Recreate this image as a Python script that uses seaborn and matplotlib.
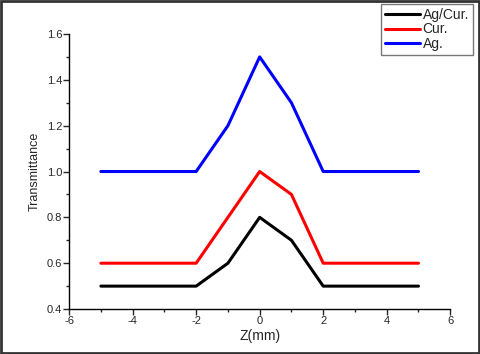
import matplotlib
matplotlib.use("Agg")
import matplotlib.pyplot as plt
import numpy as np
import pandas as pd
import seaborn as sns
from matplotlib.patches import Rectangle
from matplotlib.ticker import MultipleLocator

# 데이터
z_mm = [-5, -4, -3, -2, -1, 0, 1, 2, 3, 4, 5]
ag_cur = [0.5, 0.5, 0.5, 0.5, 0.6, 0.8, 0.7, 0.5, 0.5, 0.5, 0.5]
cur = [0.6, 0.6, 0.6, 0.6, 0.8, 1.0, 0.9, 0.6, 0.6, 0.6, 0.6]
ag = [1.0, 1.0, 1.0, 1.0, 1.2, 1.5, 1.3, 1.0, 1.0, 1.0, 1.0]

series_names = ["Ag/Cur.", "Cur.", "Ag."]
series_colors = {"Ag/Cur.": "#000000", "Cur.": "#ff0000", "Ag.": "#0000ff"}

df = pd.concat([
    pd.DataFrame({"z": z_mm, "T": vals, "sample": name})
    for name, vals in zip(series_names, [ag_cur, cur, ag])
])

sns.set_style("ticks")
plt.rcParams["font.family"] = ["Liberation Sans", "DejaVu Sans"]
plt.rcParams["axes.unicode_minus"] = False

fig = plt.figure(figsize=(4.8, 3.54), dpi=100)
ax = fig.add_axes([0.144, 0.127, 0.794, 0.777])

sns.lineplot(data=df, x="z", y="T", hue="sample", hue_order=series_names,
             palette=series_colors, linewidth=2.2, legend=False, ax=ax)

ax.set_xlim(-6, 6)
ax.set_ylim(0.4, 1.6)
ax.xaxis.set_major_locator(MultipleLocator(2))
ax.xaxis.set_minor_locator(MultipleLocator(1))
ax.yaxis.set_major_locator(MultipleLocator(0.2))
ax.yaxis.set_minor_locator(MultipleLocator(0.1))
ax.yaxis.set_major_formatter(matplotlib.ticker.FormatStrFormatter("%.1f"))
ax.tick_params(which="major", direction="out", length=4, width=1, labelsize=8, pad=1)
ax.tick_params(which="minor", direction="out", length=2.5, width=1)
sns.despine(ax=ax)
for s in ["left", "bottom"]:
    ax.spines[s].set_linewidth(1)
    ax.spines[s].set_color("black")

ax.set_xlabel("Z(mm)", fontsize=10, labelpad=2)
ax.set_ylabel("Transmittance", fontsize=9, labelpad=4)

# 범례 (그림 우상단)
handles = [plt.Line2D([0], [0], color=series_colors[n], lw=2.2) for n in series_names]
leg = fig.legend(handles, series_names, loc="upper right",
                 bbox_to_anchor=(0.986, 0.99), fontsize=10, frameon=True,
                 fancybox=False, handlelength=2.5, handletextpad=0.2,
                 labelspacing=0.05, borderpad=0.3, borderaxespad=0)
leg.get_frame().set_edgecolor("#555555")
leg.get_frame().set_linewidth(1)

# 바깥 테두리
fig.patches.append(Rectangle((0.002, 0.003), 0.996, 0.994, transform=fig.transFigure,
                             fill=False, edgecolor="#333333", linewidth=2))

fig.savefig("out.png", dpi=100)
